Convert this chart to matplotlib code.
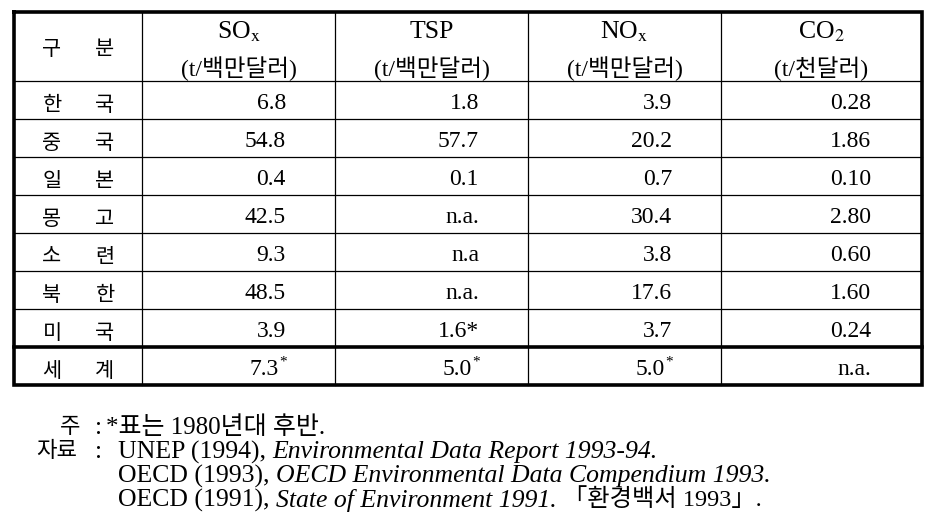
import matplotlib
matplotlib.use('Agg')
import matplotlib.pyplot as plt

plt.rcParams['font.family'] = ['Liberation Serif', 'Noto Sans CJK KR']
plt.rcParams['mathtext.fontset'] = 'stix'

# table data ('^*' = superscript star)
regions = ['한국', '중국', '일본', '몽고', '소련', '북한', '미국', '세계']
sox = ['6.8', '54.8', '0.4', '42.5', '9.3', '48.5', '3.9', '7.3^*']
tsp = ['1.8', '57.7', '0.1', 'n.a.', 'n.a', 'n.a.', '1.6*', '5.0^*']
nox = ['3.9', '20.2', '0.7', '30.4', '3.8', '17.6', '3.7', '5.0^*']
co2 = ['0.28', '1.86', '0.10', '2.80', '0.60', '1.60', '0.24', 'n.a.']

head_label = '구분'
head_names = ['SO$_{\\mathrm{x}}$', 'TSP', 'NO$_{\\mathrm{x}}$', 'CO$_{2}$']
head_units = ['(t/백만달러)', '(t/백만달러)', '(t/백만달러)', '(t/천달러)']

note_label = '주'
note_text = '*표는 1980년대 후반.'
src_label = '자료'
sources = [
    ('UNEP (1994), ', 'Environmental Data Report 1993-94.', ''),
    ('OECD (1993), ', 'OECD Environmental Data Compendium 1993.', ''),
    ('OECD (1991), ', 'State of Environment 1991.', '「환경백서 1993」.'),
]

# layout in pixels
W, H = 937, 523
col_x = [14, 142, 335, 528, 721, 922]
row_y = [12, 81, 119, 157, 195, 233, 271, 309, 347, 385]
val_right = [286, 479, 672, 871]

fig = plt.figure(figsize=(W / 100, H / 100), dpi=100)
ax = fig.add_axes([0, 0, 1, 1])
ax.set_xlim(0, W)
ax.set_ylim(H, 0)
ax.axis('off')

# grid lines
for x in col_x[1:-1]:
    ax.plot([x, x], [row_y[0], row_y[-1]], color='black', lw=0.9)
for i, y in enumerate(row_y[1:-1]):
    lw = 2.6 if i == len(row_y) - 3 else 0.9
    ax.plot([col_x[0], col_x[-1]], [y, y], color='black', lw=lw)
ax.plot([col_x[0], col_x[-1], col_x[-1], col_x[0], col_x[0]],
        [row_y[0], row_y[0], row_y[-1], row_y[-1], row_y[0]],
        color='black', lw=2.6, solid_joinstyle='miter')

kfont = 15
nfont = 17

# header
ax.text(52, 55, head_label[0], ha='center', va='baseline', fontsize=kfont)
ax.text(105, 55, head_label[1], ha='center', va='baseline', fontsize=kfont)
for j in range(4):
    cx = (col_x[j + 1] + col_x[j + 2]) / 2
    ax.text(cx, 38, head_names[j], ha='center', va='baseline', fontsize=18.5)
    ax.text(cx, 76, head_units[j], ha='center', va='baseline', fontsize=17)

# body
cols = [sox, tsp, nox, co2]
for i, name in enumerate(regions):
    bot = row_y[i + 2]
    ax.text(52, bot - 8, name[0], ha='center', va='baseline', fontsize=kfont)
    ax.text(105, bot - 8, name[1], ha='center', va='baseline', fontsize=kfont)
    for j, col in enumerate(cols):
        s = col[i]
        if s.endswith('^*'):
            ax.text(val_right[j] - 7, bot - 10, s[:-2], ha='right',
                    va='baseline', fontsize=nfont)
            ax.text(val_right[j] - 7, bot - 19, '*', ha='left',
                    va='baseline', fontsize=11)
        else:
            ax.text(val_right[j], bot - 10, s, ha='right', va='baseline',
                    fontsize=nfont)

# footnotes
ffont = 18.5
ax.text(60, 428, note_label, ha='left', va='center', fontsize=16)
ax.text(95, 428, ':', ha='left', va='center', fontsize=ffont)
ax.text(106, 428, note_text, ha='left', va='center', fontsize=18)
ax.text(36, 452, src_label, ha='left', va='center', fontsize=16)
ax.text(95, 452, ':', ha='left', va='center', fontsize=ffont)
fig.canvas.draw()
for k, (plain, ital, tail) in enumerate(sources):
    y = H - (452 + 24 * k)
    t1 = ax.text(118, H - y, plain, ha='left', va='center', fontsize=ffont)
    x2 = t1.get_window_extent(fig.canvas.get_renderer()).x1
    t2 = ax.text(x2, y, ital, ha='left', va='center', fontsize=ffont,
                 style='italic', transform=None)
    if tail:
        x3 = t2.get_window_extent(fig.canvas.get_renderer()).x1
        ax.text(x3 + 6, y, tail, ha='left', va='center', fontsize=17.5,
                transform=None)

fig.savefig('out.png', dpi=100)
